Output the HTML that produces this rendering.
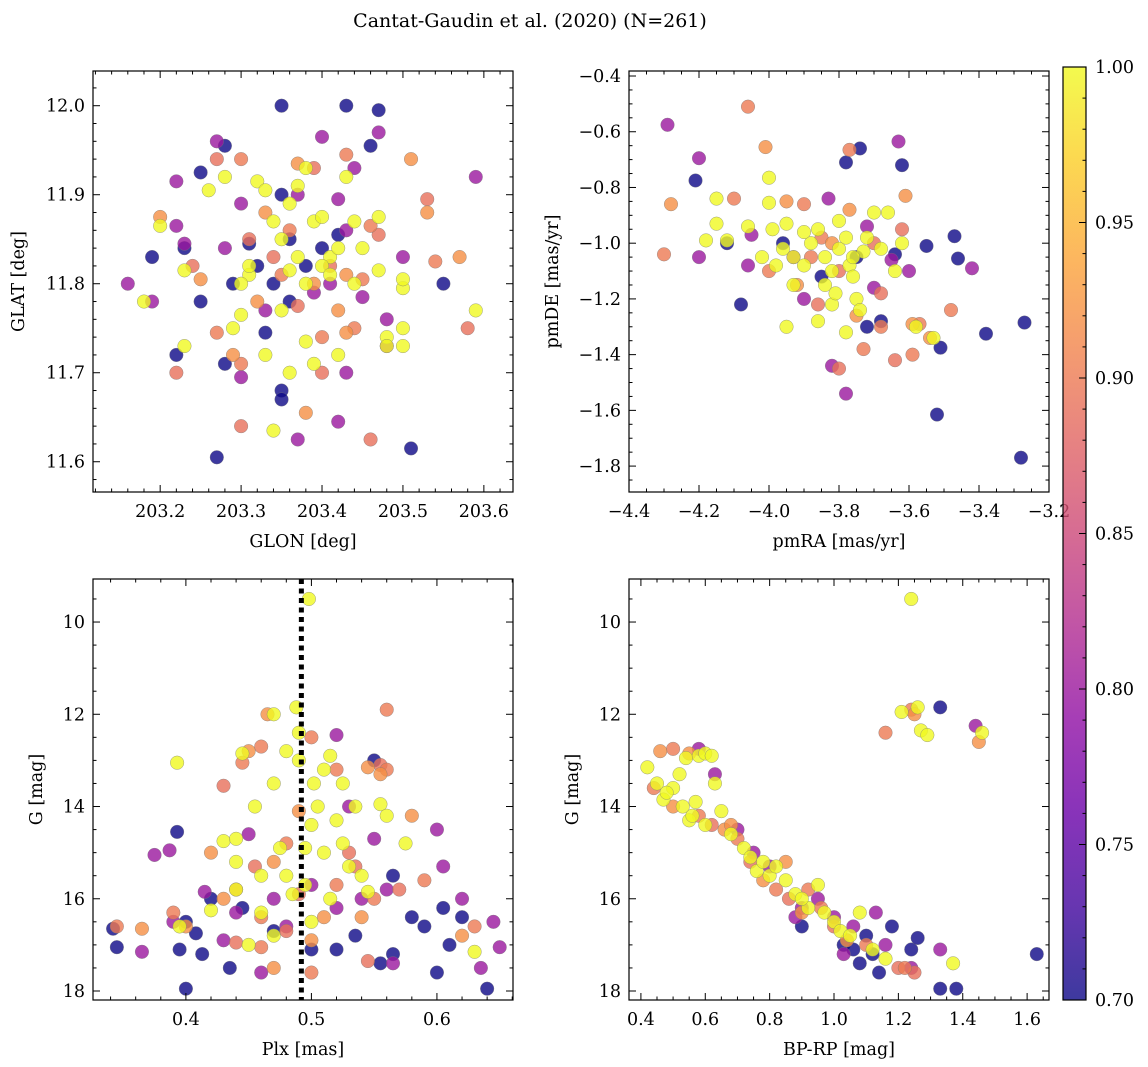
<!DOCTYPE html>
<html><head><meta charset="utf-8">
<style>
html,body{margin:0;padding:0;background:#fff;}
svg{display:block;font-family:"DejaVu Serif","Liberation Serif",serif;}
</style></head>
<body>
<svg id="fig" width="1148" height="1067" viewBox="0 0 1148 1067" xmlns="http://www.w3.org/2000/svg">
<defs>
<linearGradient id="plasma" x1="0" y1="1" x2="0" y2="0">
<stop offset="0" stop-color="#0d0887"/><stop offset="0.1" stop-color="#41049d"/><stop offset="0.2" stop-color="#6a00a8"/><stop offset="0.3" stop-color="#8f0da4"/><stop offset="0.4" stop-color="#b12a90"/><stop offset="0.5" stop-color="#cc4778"/><stop offset="0.6" stop-color="#e16462"/><stop offset="0.7" stop-color="#f2844b"/><stop offset="0.8" stop-color="#fca636"/><stop offset="0.9" stop-color="#fcce25"/><stop offset="1" stop-color="#f0f921"/>
</linearGradient>
</defs>
<text x="530" y="27" font-size="19" text-anchor="middle">Cantat-Gaudin et al. (2020) (N=261)</text>
</svg>
<script>
// ---- data: [x, y, membership probability] ----
const skyStars=[
[203.35,12.00,.7],[203.43,12.00,.7],[203.47,11.995,.7],[203.28,11.955,.7],[203.46,11.955,.7],[203.25,11.925,.7],[203.19,11.83,.7],[203.23,11.84,.7],[203.31,11.845,.7],[203.32,11.82,.7],[203.36,11.85,.7],[203.34,11.80,.7],[203.29,11.80,.7],[203.25,11.78,.7],[203.33,11.745,.7],[203.36,11.78,.7],[203.35,11.68,.7],[203.35,11.67,.7],[203.27,11.605,.7],[203.51,11.615,.7],[203.55,11.80,.7],[203.42,11.855,.7],[203.38,11.82,.7],[203.40,11.84,.7],[203.22,11.72,.7],[203.28,11.71,.7],[203.35,11.90,.7],
[203.16,11.80,.8],[203.22,11.915,.8],[203.27,11.96,.8],[203.30,11.89,.8],[203.40,11.965,.8],[203.47,11.97,.8],[203.59,11.92,.8],[203.44,11.93,.8],[203.42,11.895,.8],[203.22,11.865,.8],[203.23,11.845,.8],[203.19,11.78,.8],[203.30,11.695,.8],[203.42,11.645,.8],[203.43,11.70,.8],[203.48,11.76,.8],[203.37,11.625,.8],[203.39,11.79,.8],[203.41,11.80,.8],[203.50,11.83,.8],[203.28,11.84,.8],[203.43,11.86,.8],[203.37,11.90,.8],[203.33,11.77,.8],[203.45,11.785,.8],[203.48,11.73,.8],
[203.27,11.94,.89],[203.30,11.94,.9],[203.37,11.935,.92],[203.39,11.93,.89],[203.43,11.945,.9],[203.51,11.94,.92],[203.53,11.895,.89],[203.53,11.88,.92],[203.46,11.865,.9],[203.47,11.855,.89],[203.20,11.875,.92],[203.24,11.82,.89],[203.25,11.805,.92],[203.27,11.745,.9],[203.22,11.70,.89],[203.29,11.72,.92],[203.30,11.64,.89],[203.30,11.71,.9],[203.38,11.655,.92],[203.40,11.70,.89],[203.44,11.75,.9],[203.43,11.745,.92],[203.46,11.625,.89],[203.54,11.825,.9],[203.57,11.83,.92],[203.58,11.75,.89],[203.33,11.88,.92],[203.36,11.86,.9],[203.41,11.82,.89],[203.39,11.80,.92],[203.35,11.81,.9],[203.31,11.85,.89],[203.43,11.81,.92],[203.45,11.805,.9],[203.37,11.775,.89],[203.32,11.78,.92],[203.40,11.74,.9],[203.34,11.83,.89],[203.42,11.77,.92],
[203.18,11.78,1],[203.20,11.865,1],[203.23,11.815,1],[203.23,11.73,1],[203.26,11.905,1],[203.28,11.92,1],[203.29,11.75,1],[203.30,11.765,1],[203.31,11.81,1],[203.32,11.915,1],[203.33,11.905,1],[203.34,11.87,1],[203.35,11.85,1],[203.36,11.89,1],[203.37,11.91,1],[203.38,11.93,1],[203.39,11.87,1],[203.40,11.875,1],[203.41,11.83,1],[203.42,11.84,1],[203.43,11.92,1],[203.44,11.87,1],[203.45,11.84,1],[203.47,11.875,1],[203.47,11.815,1],[203.48,11.74,1],[203.48,11.73,1],[203.50,11.795,1],[203.50,11.805,1],[203.50,11.75,1],[203.50,11.73,1],[203.59,11.77,1],[203.34,11.635,1],[203.36,11.70,1],[203.38,11.735,1],[203.39,11.71,1],[203.42,11.72,1],[203.35,11.77,1],[203.33,11.72,1],[203.31,11.82,1],[203.36,11.815,1],[203.38,11.80,1],[203.40,11.82,1],[203.41,11.81,1],[203.44,11.80,1],[203.30,11.80,1],[203.37,11.83,1]];
const pmStars=[
[-4.21,-0.775,.7],[-4.08,-1.22,.7],[-4.12,-1.00,.7],[-3.78,-0.71,.7],[-3.74,-0.66,.7],[-3.62,-0.72,.7],[-3.64,-1.04,.7],[-3.47,-0.975,.7],[-3.46,-1.055,.7],[-3.38,-1.325,.7],[-3.27,-1.285,.7],[-3.51,-1.375,.7],[-3.52,-1.615,.7],[-3.28,-1.77,.7],[-3.68,-1.28,.7],[-3.72,-1.30,.7],[-3.75,-1.05,.7],[-3.55,-1.01,.7],[-3.85,-1.12,.7],[-3.96,-1.0,.7],
[-4.29,-0.575,.8],[-4.20,-0.695,.8],[-4.20,-1.05,.8],[-3.83,-0.84,.8],[-3.63,-0.635,.8],[-3.42,-1.09,.8],[-3.78,-1.54,.8],[-3.82,-1.44,.8],[-3.70,-1.16,.8],[-3.60,-1.10,.8],[-3.93,-1.05,.8],[-4.06,-1.08,.8],[-3.90,-1.20,.8],[-3.72,-0.94,.8],[-3.65,-1.06,.8],[-4.05,-0.97,.8],
[-4.06,-0.51,.9],[-4.01,-0.655,.92],[-3.77,-0.665,.9],[-4.28,-0.86,.92],[-4.30,-1.04,.9],[-3.61,-0.83,.92],[-3.48,-1.24,.9],[-3.80,-1.45,.89],[-3.73,-1.38,.9],[-3.64,-1.42,.89],[-3.59,-1.40,.9],[-3.59,-1.29,.92],[-3.57,-1.29,.9],[-3.54,-1.34,.92],[-3.68,-1.18,.89],[-3.68,-1.30,.9],[-3.95,-0.85,.92],[-3.90,-0.86,.9],[-3.86,-1.22,.89],[-4.10,-0.84,.9],[-3.92,-1.15,.92],[-3.80,-1.10,.89],[-3.85,-0.98,.9],[-3.75,-1.26,.92],[-3.70,-1.00,.89],[-4.00,-1.10,.9],[-3.77,-0.88,.92],[-3.62,-0.95,.89],[-3.88,-1.05,.9],[-3.82,-1.00,.92],
[-4.15,-0.84,1],[-4.15,-0.93,1],[-4.12,-0.99,1],[-4.18,-0.99,1],[-4.00,-0.765,1],[-4.00,-0.855,1],[-3.95,-0.93,1],[-3.99,-0.95,1],[-3.98,-1.08,1],[-4.02,-1.05,1],[-3.95,-1.30,1],[-3.93,-1.15,1],[-3.90,-1.08,1],[-3.88,-1.00,1],[-3.86,-0.95,1],[-3.84,-1.05,1],[-3.82,-1.10,1],[-3.80,-0.92,1],[-3.80,-1.02,1],[-3.78,-0.98,1],[-3.77,-1.08,1],[-3.76,-1.12,1],[-3.75,-1.20,1],[-3.73,-1.03,1],[-3.72,-0.98,1],[-3.70,-0.89,1],[-3.68,-1.02,1],[-3.66,-0.89,1],[-3.64,-1.10,1],[-3.62,-1.00,1],[-3.58,-1.30,1],[-3.53,-1.34,1],[-3.78,-1.32,1],[-3.86,-1.28,1],[-3.82,-1.22,1],[-3.90,-0.96,1],[-3.84,-1.15,1],[-3.74,-1.24,1],[-3.93,-1.05,1],[-3.96,-1.02,1],[-4.06,-0.94,1],[-3.81,-1.18,1],[-3.76,-1.05,1]];
const plxStars=[
[0.342,16.65,.7],[0.345,17.05,.7],[0.393,14.55,.7],[0.395,17.1,.7],[0.40,17.95,.7],[0.40,16.5,.7],[0.408,16.75,.7],[0.413,17.2,.7],[0.42,16.0,.7],[0.435,17.5,.7],[0.445,16.2,.7],[0.47,16.7,.7],[0.50,17.1,.7],[0.52,17.1,.7],[0.535,16.8,.7],[0.55,13.0,.7],[0.555,17.4,.7],[0.565,15.5,.7],[0.59,16.6,.7],[0.60,17.6,.7],[0.605,16.2,.7],[0.61,17.0,.7],[0.64,17.95,.7],[0.62,16.4,.7],[0.58,16.4,.7],[0.565,17.2,.7],
[0.365,17.15,.8],[0.375,15.05,.8],[0.387,14.95,.8],[0.39,16.5,.8],[0.43,16.9,.8],[0.44,16.3,.8],[0.46,17.6,.8],[0.48,16.6,.8],[0.52,16.2,.8],[0.54,16.0,.8],[0.56,15.8,.8],[0.60,14.5,.8],[0.605,15.3,.8],[0.635,17.5,.8],[0.645,16.5,.8],[0.65,17.05,.8],[0.62,16.0,.8],[0.52,12.45,.8],[0.50,15.7,.8],[0.47,16.0,.8],[0.55,14.7,.8],[0.565,17.4,.8],[0.415,15.85,.8],[0.45,14.6,.8],[0.53,14.0,.8],
[0.345,16.6,.9],[0.365,16.65,.92],[0.39,16.3,.9],[0.40,16.6,.92],[0.43,13.55,.89],[0.445,13.05,.9],[0.45,12.8,.92],[0.46,12.7,.9],[0.465,12.0,.92],[0.50,12.5,.9],[0.555,13.3,.92],[0.56,11.9,.9],[0.555,13.1,.89],[0.545,13.15,.92],[0.56,13.2,.9],[0.58,14.2,.92],[0.59,15.6,.9],[0.62,16.8,.92],[0.63,16.6,.9],[0.545,17.35,.89],[0.50,17.6,.9],[0.47,17.5,.92],[0.46,17.05,.9],[0.44,16.95,.89],[0.43,16.0,.92],[0.44,15.8,.9],[0.455,15.3,.89],[0.47,15.2,.92],[0.48,14.8,.9],[0.49,15.9,.89],[0.51,16.4,.92],[0.52,15.7,.9],[0.53,15.0,.89],[0.54,16.4,.92],[0.55,16.0,.9],[0.57,15.8,.89],[0.42,15.0,.92],[0.46,16.4,.9],[0.48,16.7,.89],[0.50,16.9,.92],[0.52,13.2,.9],[0.535,15.3,.89],[0.49,14.1,.92],
[0.393,13.05,1],[0.395,16.6,1],[0.42,16.25,1],[0.43,14.75,1],[0.44,14.7,1],[0.44,15.8,1],[0.445,12.85,1],[0.45,17.0,1],[0.46,15.5,1],[0.47,12.0,1],[0.47,13.5,1],[0.475,14.9,1],[0.48,12.8,1],[0.485,15.9,1],[0.488,11.85,1],[0.49,13.0,1],[0.495,15.7,1],[0.498,9.5,1],[0.50,14.4,1],[0.502,13.5,1],[0.505,14.0,1],[0.51,13.2,1],[0.51,15.0,1],[0.515,16.0,1],[0.52,14.3,1],[0.525,13.5,1],[0.53,15.3,1],[0.535,14.0,1],[0.54,15.5,1],[0.545,15.85,1],[0.555,13.95,1],[0.56,14.2,1],[0.575,14.8,1],[0.63,17.15,1],[0.49,12.4,1],[0.495,14.9,1],[0.50,16.5,1],[0.48,15.5,1],[0.46,16.3,1],[0.47,16.8,1],[0.455,14.0,1],[0.44,15.2,1],[0.515,12.9,1],[0.525,14.8,1]];
const cmdStars=[
[0.90,16.6,.7],[1.03,17.0,.7],[1.06,17.1,.7],[1.08,17.4,.7],[1.12,17.2,.7],[1.14,17.6,.7],[1.18,16.6,.7],[1.24,17.1,.7],[1.26,16.85,.7],[1.33,11.85,.7],[1.33,17.95,.7],[1.38,17.95,.7],[1.63,17.2,.7],[1.10,16.8,.7],
[0.58,12.75,.8],[0.63,13.3,.8],[0.70,14.5,.8],[0.75,15.0,.8],[0.80,15.3,.8],[0.90,16.2,.8],[0.95,16.0,.8],[1.00,16.4,.8],[1.06,16.6,.8],[1.13,16.3,.8],[1.16,17.0,.8],[1.24,17.5,.8],[1.44,12.25,.8],[1.33,17.1,.8],[0.88,16.4,.8],[1.03,17.2,.8],
[0.46,12.8,.92],[0.50,12.75,.9],[0.55,12.85,.92],[0.44,13.6,.9],[0.50,14.0,.92],[0.58,14.2,.9],[0.62,14.4,.89],[0.66,14.5,.92],[0.70,14.7,.9],[0.74,15.2,.89],[0.78,15.6,.92],[0.82,15.8,.9],[0.86,16.0,.89],[0.90,16.3,.92],[0.96,16.2,.9],[1.00,16.6,.89],[1.04,16.9,.92],[1.10,17.0,.9],[1.16,12.4,.9],[1.24,11.9,.9],[1.25,12.0,.92],[1.45,12.6,.92],[1.20,17.5,.89],[1.22,17.5,.9],[1.25,17.6,.89],[0.85,15.2,.92],[0.92,15.8,.9],[0.68,14.4,.92],
[0.42,13.15,1],[0.45,13.5,1],[0.47,13.85,1],[0.50,13.6,1],[0.52,13.3,1],[0.53,14.0,1],[0.54,12.95,1],[0.55,14.3,1],[0.57,13.9,1],[0.58,12.9,1],[0.60,12.85,1],[0.62,12.9,1],[0.60,14.4,1],[0.63,13.5,1],[0.65,14.1,1],[0.68,14.6,1],[0.72,14.9,1],[0.74,15.1,1],[0.76,15.4,1],[0.78,15.2,1],[0.80,15.5,1],[0.82,15.3,1],[0.85,15.6,1],[0.88,15.9,1],[0.92,16.2,1],[0.95,15.7,1],[0.97,16.3,1],[1.00,16.5,1],[1.02,16.7,1],[1.05,16.8,1],[1.08,16.3,1],[1.12,17.1,1],[1.16,17.3,1],[1.24,9.5,1],[1.21,11.95,1],[1.26,11.85,1],[1.27,12.35,1],[1.29,12.45,1],[1.37,17.4,1],[1.46,12.4,1],[0.48,13.7,1],[0.56,14.2,1],[0.90,16.0,1]];
const plxMean=[0.492];
const cbarTicks=[0.70,0.75,0.80,0.85,0.90,0.95,1.00];

const NS='http://www.w3.org/2000/svg';
const svg=document.getElementById('fig');
function mk(tag,attrs,parent){const e=document.createElementNS(NS,tag);for(const k in attrs)e.setAttribute(k,attrs[k]);(parent||svg).appendChild(e);return e;}
const stops=['#0d0887','#41049d','#6a00a8','#8f0da4','#b12a90','#cc4778','#e16462','#f2844b','#fca636','#fcce25','#f0f921'];
function hex(h){return [1,3,5].map(i=>parseInt(h.substr(i,2),16));}
function plasma(p){let t=Math.max(0,Math.min(1,(p-0.7)/0.3))*10;const i=Math.min(9,Math.floor(t));const f=t-i;const a=hex(stops[i]),b=hex(stops[i+1]);return 'rgb('+a.map((v,k)=>Math.round(v+(b[k]-v)*f)).join(',')+')';}
const FS=17.5;

function panel(o){
  const g=mk('g',{});
  
  
  const X=v=>o.x0+(v-o.xmin)/(o.xmax-o.xmin)*(o.x1-o.x0);
  const Y=o.invert?v=>o.y0+(v-o.ymin)/(o.ymax-o.ymin)*(o.y1-o.y0):v=>o.y1-(v-o.ymin)/(o.ymax-o.ymin)*(o.y1-o.y0);
  const pts=o.data.slice().sort((a,b)=>a[2]-b[2]);
  const pg=mk('g',{},g);
  
  
  pts.forEach(d=>{const c=mk('circle',{cx:X(d[0]),cy:Y(d[1]),r:6.8,fill:plasma(d[2]),'fill-opacity':0.8,stroke:'#777','stroke-width':0.5,'stroke-opacity':0.7},pg);
    
    });
  if(o.vline){o.vline.forEach(v=>{const l=mk('line',{x1:X(v),x2:X(v),y1:o.y0,y2:o.y1,stroke:'#000','stroke-width':5,'stroke-dasharray':'5,4.5'},g);
    
    });}
  const fr=mk('rect',{x:o.x0,y:o.y0,width:o.x1-o.x0,height:o.y1-o.y0,fill:'none',stroke:'#000','stroke-width':1.2},g);
  
  
  const eps=1e-9;
  for(let v=Math.ceil(o.xmin/o.xminor-eps)*o.xminor;v<=o.xmax+eps;v+=o.xminor){
    const major=Math.abs(v/o.xmajor-Math.round(v/o.xmajor))<1e-6;const L=major?7:3.5;const x=X(v);
    mk('line',{x1:x,x2:x,y1:o.y1,y2:o.y1-L,stroke:'#000','stroke-width':1},g);
    mk('line',{x1:x,x2:x,y1:o.y0,y2:o.y0+L,stroke:'#000','stroke-width':1},g);
    if(major){const t=mk('text',{x:x,y:o.y1+25,'font-size':FS,'text-anchor':'middle'},g);t.textContent=(Math.abs(v)<eps?0:v).toFixed(o.xdec).replace('-','\u2212');
      
      }
  }
  for(let v=Math.ceil(o.ymin/o.yminor-eps)*o.yminor;v<=o.ymax+eps;v+=o.yminor){
    const major=Math.abs(v/o.ymajor-Math.round(v/o.ymajor))<1e-6;const L=major?7:3.5;const y=Y(v);
    mk('line',{x1:o.x0,x2:o.x0+L,y1:y,y2:y,stroke:'#000','stroke-width':1},g);
    mk('line',{x1:o.x1,x2:o.x1-L,y1:y,y2:y,stroke:'#000','stroke-width':1},g);
    if(major){const t=mk('text',{x:o.x0-8,y:y+6,'font-size':FS,'text-anchor':'end'},g);t.textContent=v.toFixed(o.ydec).replace('-','\u2212');
      
      }
  }
  const xl=mk('text',{x:(o.x0+o.x1)/2,y:o.y1+55,'font-size':FS,'text-anchor':'middle'},g);xl.textContent=o.xlabel;
  
  
  const yc=(o.y0+o.y1)/2;
  const yl=mk('text',{x:o.ylx,y:yc,'font-size':FS,'text-anchor':'middle',transform:'rotate(-90 '+o.ylx+' '+yc+')'},g);yl.textContent=o.ylabel;
  
  
}
panel({name:'sky-position-panel',data:skyStars,x0:93,x1:513,y0:71,y1:492,xmin:203.117,xmax:203.636,ymin:11.566,ymax:12.039,xmajor:0.1,xminor:0.02,ymajor:0.1,yminor:0.02,xdec:1,ydec:1,xlabel:'GLON [deg]',ylabel:'GLAT [deg]',ylx:24});
panel({name:'proper-motion-panel',data:pmStars,x0:629,x1:1049,y0:71,y1:492,xmin:-4.4,xmax:-3.2,ymin:-1.893,ymax:-0.382,xmajor:0.2,xminor:0.05,ymajor:0.2,yminor:0.05,xdec:1,ydec:1,xlabel:'pmRA [mas/yr]',ylabel:'pmDE [mas/yr]',ylx:558});
panel({name:'parallax-magnitude-panel',data:plxStars,vline:plxMean,invert:true,x0:93,x1:513,y0:579,y1:1000,xmin:0.326,xmax:0.6606,ymin:9.067,ymax:18.195,xmajor:0.1,xminor:0.02,ymajor:2,yminor:0.5,xdec:1,ydec:0,xlabel:'Plx [mas]',ylabel:'G [mag]',ylx:42});
panel({name:'color-magnitude-panel',data:cmdStars,invert:true,x0:629,x1:1049,y0:579,y1:1000,xmin:0.363,xmax:1.668,ymin:9.067,ymax:18.195,xmajor:0.2,xminor:0.05,ymajor:2,yminor:0.5,xdec:1,ydec:0,xlabel:'BP-RP [mag]',ylabel:'G [mag]',ylx:578});

// colorbar
const cb=mk('g',{});


const cx0=1063,cx1=1086,cy0=67,cy1=1000;
mk('rect',{x:cx0,y:cy0,width:cx1-cx0,height:cy1-cy0,fill:'url(#plasma)','fill-opacity':0.8},cb);
mk('rect',{x:cx0,y:cy0,width:cx1-cx0,height:cy1-cy0,fill:'none',stroke:'#000','stroke-width':1.2},cb);
const CY=v=>cy1-(v-0.7)/0.3*(cy1-cy0);
for(let i=0;i<=30;i++){const v=0.7+i*0.01;const major=i%5===0;const y=CY(v);
  mk('line',{x1:cx1,x2:cx1-(major?7:3.5),y1:y,y2:y,stroke:'#000','stroke-width':1},cb);}
cbarTicks.forEach(v=>{const t=mk('text',{x:cx1+9,y:CY(v)+6,'font-size':FS},cb);t.textContent=v.toFixed(2);
  
  });
</script>
</body></html>
